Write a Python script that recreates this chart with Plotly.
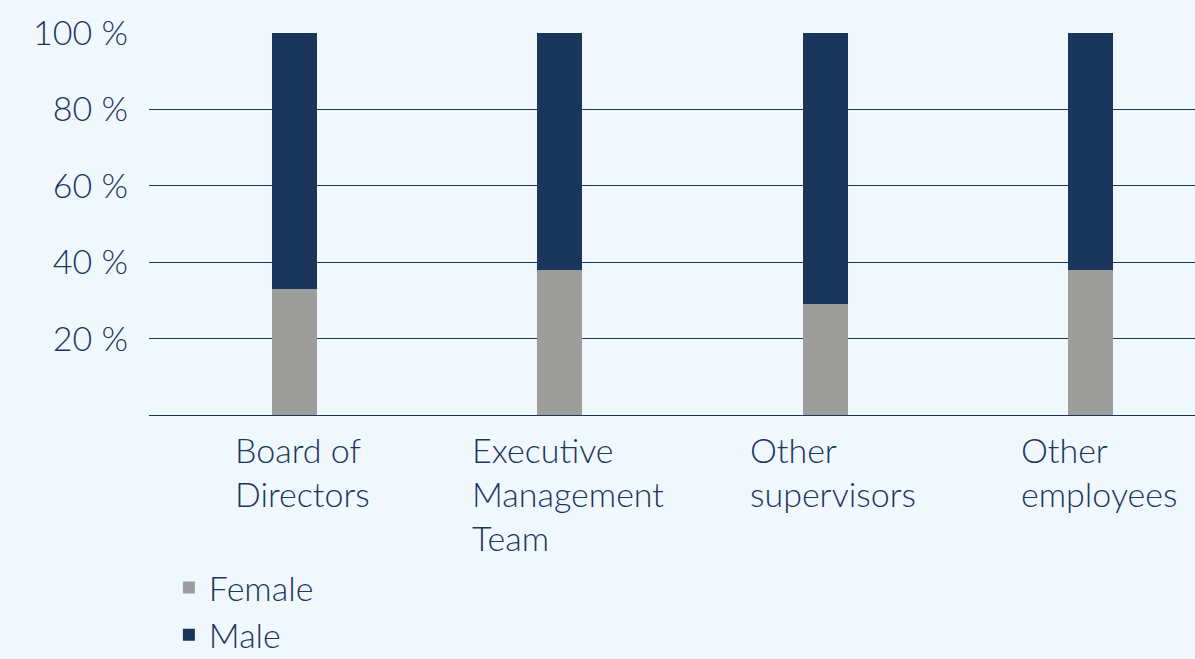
import plotly.graph_objects as go

categories = ["Board of<br>Directors", "Executive<br>Management<br>Team",
              "Other<br>supervisors", "Other<br>employees"]
female = [33, 38, 29, 38]
male = [67, 62, 71, 62]
tick_vals = [20, 40, 60, 80, 100]
tick_text = ["20 %", "40 %", "60 %", "80 %", "100 %"]

NAVY = "#1b365d"
GREY = "#9d9d9c"
BG = "#f0f8fe"
FONT = "Lato, 'Open Sans', sans-serif"

xs = list(range(len(categories)))

fig = go.Figure()
fig.add_bar(x=xs, y=female, name="Female", marker=dict(color=GREY, line=dict(width=0)))
fig.add_bar(x=xs, y=male, name="Male", marker=dict(color=NAVY, line=dict(width=0)))

for i, lab in enumerate(categories):
    fig.add_annotation(x=i, y=0, xref="x", yref="paper", text=lab, showarrow=False,
                       xanchor="center", yanchor="top", align="left", xshift=8, yshift=-12,
                       font=dict(family=FONT, size=34, color=NAVY, weight=300))

fig.update_layout(
    width=1195, height=659,
    margin=dict(l=149, r=0, t=33, b=244, autoexpand=False),
    paper_bgcolor=BG, plot_bgcolor=BG,
    barmode="stack", bargap=0.83,
    font=dict(family=FONT, size=34, color=NAVY, weight=300),
    showlegend=True,
    legend=dict(orientation="v", x=0.019, xanchor="left", y=0.152, yanchor="top",
                yref="container",
                bgcolor="rgba(0,0,0,0)", font=dict(size=34, color=NAVY, weight=300),
                traceorder="normal", tracegroupgap=0),
    xaxis=dict(range=[-0.547, 3.393], showticklabels=False, showgrid=False,
               zeroline=False, showline=False, ticks="", fixedrange=True),
    yaxis=dict(range=[0, 100], tickvals=tick_vals, ticktext=tick_text,
               showgrid=True, gridcolor=NAVY, gridwidth=1, zeroline=True,
               zerolinecolor=NAVY, zerolinewidth=1, showline=False, ticks="",
               ticklabelstandoff=20, tickfont=dict(size=34, color=NAVY, weight=300),
               fixedrange=True),
)

fig.write_html(
    "out.html",
    config={"displayModeBar": False},
    post_script="document.body.style.margin='0';document.body.style.background='%s';" % BG,
)
